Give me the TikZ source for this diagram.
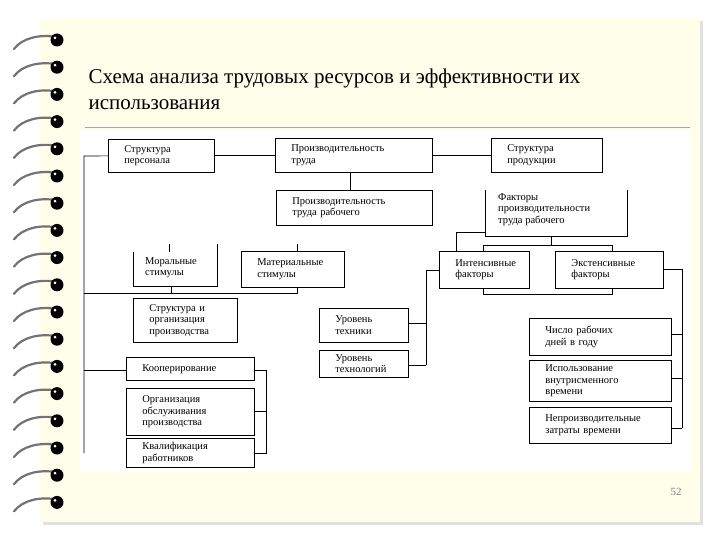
\documentclass[tikz,border=0pt]{standalone}
\usepackage{fontspec}
\setmainfont{Liberation Serif}
\begin{document}
\begin{tikzpicture}[x=1pt,y=-1pt,
  bx/.style={draw,line width=0.7pt,fill=white,anchor=north west,inner ysep=0pt,inner xsep=16pt,align=left,font=\fontsize{10.5}{11.5}\selectfont},
  ln/.style={line width=0.7pt}]
\useasboundingbox (0,0) rectangle (720,540);
\fill[white] (0,0) rectangle (720,540);
\fill[black!12] (43,21) rectangle (703,525);
\fill[yellow!8] (40,18) rectangle (700,522);
% spiral rings
\foreach \i in {0,...,17}{
  \pgfmathsetmacro\yy{40+\i*27.2}
  \draw[black!55,line width=2.2pt,line cap=round] (14,\yy+9) .. controls (22,\yy-2) and (40,\yy-6) .. (56,\yy-3);
  \fill[black] (57,\yy) circle (6.5);
  \fill[white] (55,\yy-2) circle (1.5);
}
% title
\node[anchor=west,font=\fontsize{21}{24}\selectfont] (t1) at (85,78) {Схема анализа трудовых ресурсов и эффективности их};
\node[anchor=west,font=\fontsize{21}{24}\selectfont] (t2) at (85,105) {использования};
\draw[black!35,line width=0.6pt] (85,127) -- (690,127);
\fill[white] (80,130) rectangle (690,472);
\node[black!50,font=\fontsize{11}{12}\selectfont] (pg) at (676,492) {52};

\newcommand\bxx[6]{\node[bx,minimum width=#4-#2,minimum height=#5-#3,text width=#4-#2-32] (#1) at (#2,#3) {#6};}

% background bracket around intensive/extensive
\draw[ln] (483,245) rectangle (612,294);

\bxx{sp}{108}{139}{214}{172}{Структура\\персонала}
\bxx{pt}{275}{138}{432}{172}{Производительность\\труда}
\bxx{spr}{491}{138}{602}{172}{Структура\\продукции}
\bxx{ptr}{276}{190}{432}{225}{Производительность\\труда рабочего}
\bxx{int}{439}{251}{529}{288}{Интенсивные\\факторы}
\bxx{ext}{555}{251}{663}{288}{Экстенсивные\\факторы}
\bxx{mat}{241}{251}{344}{287}{Материальные\\стимулы}
\bxx{sio}{133}{298}{237}{342}{Структура и\\организация\\производства}
\bxx{koop}{126}{357}{254}{380}{Кооперирование}
\bxx{oop}{126}{388}{254}{435}{Организация\\обслуживания\\производства}
\bxx{kval}{126}{438}{254}{467}{Квалификация\\работников}
\bxx{ut}{319}{308}{408}{342}{Уровень\\техники}
\bxx{utl}{319}{350}{408}{377}{Уровень\\технологий}
\bxx{chd}{529}{318}{671}{355}{Число рабочих\\дней в году}
\bxx{ivv}{529}{360}{671}{401}{Использование\\внутрисменного\\времени}
\bxx{nzv}{529}{407}{671}{443}{Непроизводительные\\затраты времени}

% open-top boxes
\node[anchor=north west,align=left,inner sep=0pt,font=\fontsize{10.5}{11.5}\selectfont] (fpt) at (498,193) {Факторы\\производительности\\труда рабочего};
\draw[ln] (485,190) -- (485,236) -- (627,236) -- (627,190);
\node[anchor=north west,align=left,inner sep=0pt,font=\fontsize{10.5}{11.5}\selectfont] (mor) at (145,257) {Моральные\\стимулы};
\draw[ln] (133,252) -- (133,286) -- (217,286) -- (217,244);
\draw[ln] (169,244) -- (169,252);
\draw[ln] (297,244) -- (mat.north -| 297,0);

% top connectors
\draw[ln] (sp.east) -- (pt.west |- sp.east);
\draw[ln] (pt.east |- spr.west) -- (spr.west);
\draw[ln] (pt.south -| 350,0) -- (ptr.north -| 350,0);
% factors
\draw[ln] (551,236) -- (551,245);
\draw[ln] (485,232) -- (456,232) -- (int.north -| 456,0);
% intensive branch
\coordinate (iv) at (426,270);
\draw[ln] (int.west |- iv) -- (iv) -- (426,365);
\draw[ln] (ut.east |- 0,323) -- (426,323);
\draw[ln] (utl.east |- 0,365) -- (426,365);
% extensive branch
\draw[ln] (ext.east |- 0,269) -- (682,269) -- (682,428);
\draw[ln] (chd.east |- 0,334) -- (682,334);
\draw[ln] (ivv.east |- 0,378) -- (682,378);
\draw[ln] (nzv.east |- 0,428) -- (682,428);
% left spine
\draw[ln] (sp.west) -- (84,156) -- (84,453);
\draw[ln] (84,293) -- (297,293) -- (mat.south -| 297,0);
\draw[ln] (171,286) -- (171,293);
\draw[ln] (84,370) -- (koop.west |- 0,370);
\draw[ln] (koop.east |- 0,370) -- (266,370) -- (266,453) -- (kval.east |- 0,453);
\draw[ln] (oop.east |- 0,411) -- (266,411);
\end{tikzpicture}
\end{document}
